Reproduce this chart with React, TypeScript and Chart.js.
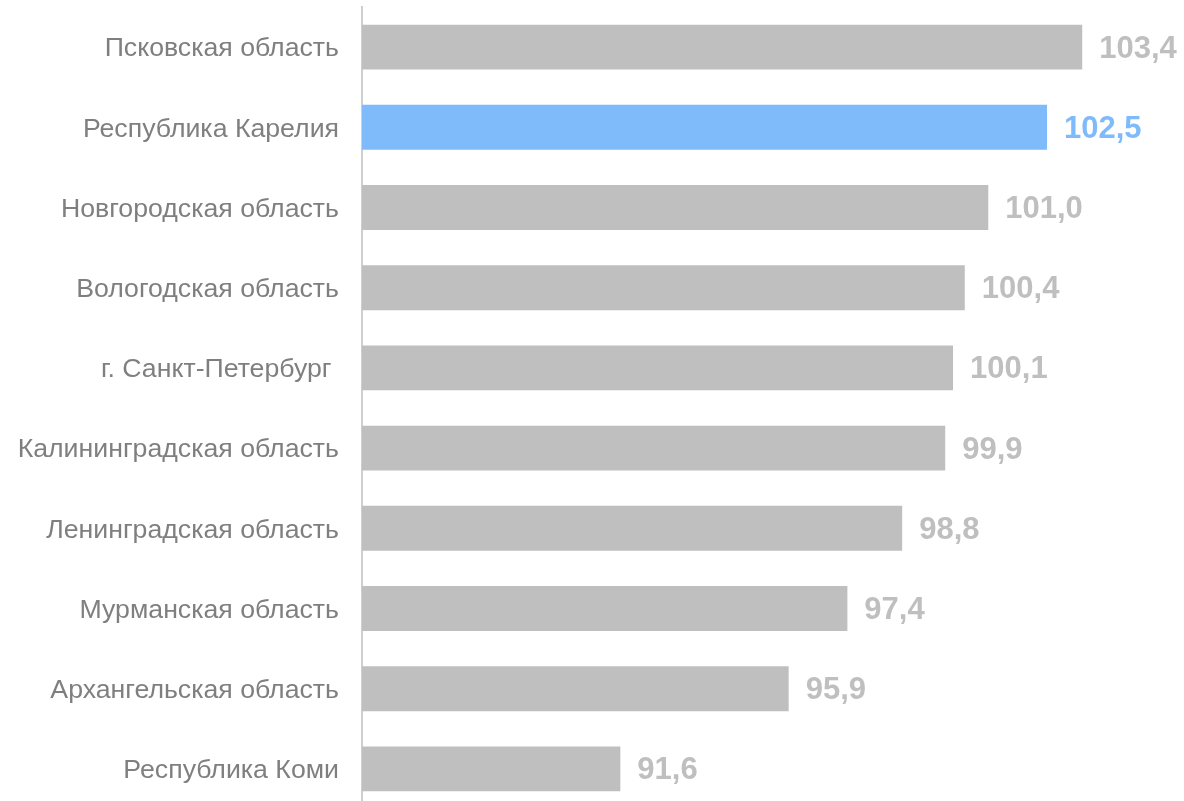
import React, { useEffect, useRef } from "react";
import { Chart, registerables } from "chart.js";

Chart.register(...registerables);

const categories = [
  "Псковская область",
  "Республика Карелия",
  "Новгородская область",
  "Вологодская область",
  "г. Санкт-Петербург ",
  "Калининградская область",
  "Ленинградская область",
  "Мурманская область",
  "Архангельская область",
  "Республика Коми",
];
const values = [103.4, 102.5, 101.0, 100.4, 100.1, 99.9, 98.8, 97.4, 95.9, 91.6];
const highlightIndex = 1;

const GRAY = "#bfbfbf";
const BLUE = "#7fbbfa";

const valueLabels = {
  id: "valueLabels",
  afterDatasetsDraw(chart: any) {
    const ctx = chart.ctx;
    const meta = chart.getDatasetMeta(0);
    ctx.save();
    ctx.font = "bold 31px 'Liberation Sans', Arial, sans-serif";
    ctx.textAlign = "left";
    ctx.textBaseline = "middle";
    meta.data.forEach((bar: any, i: number) => {
      ctx.fillStyle = i === highlightIndex ? BLUE : GRAY;
      ctx.fillText(values[i].toFixed(1).replace(".", ","), bar.x + 17, bar.y + 2);
    });
    ctx.restore();
  },
};

export default function App() {
  const ref = useRef<HTMLCanvasElement | null>(null);
  useEffect(() => {
    document.documentElement.style.overflow = "hidden";
    document.body.style.overflow = "hidden";
    const chart = new Chart(ref.current!, {
      type: "bar",
      data: {
        labels: categories,
        datasets: [
          {
            data: values,
            backgroundColor: values.map((_, i) => (i === highlightIndex ? BLUE : GRAY)),
            barPercentage: 0.56,
            categoryPercentage: 1,
          },
        ],
      },
      options: {
        indexAxis: "y",
        responsive: false,
        animation: false,
        layout: { padding: { top: 7, bottom: 3, left: 0, right: 0 } },
        plugins: { legend: { display: false }, tooltip: { enabled: false } },
        scales: {
          x: {
            min: 85,
            max: 106,
            display: false,
          },
          y: {
            grid: { display: false, drawTicks: false },
            border: { display: true, color: "#cfcfcf", width: 2 },
            ticks: {
              color: "#7f7f7f",
              font: { family: "'Liberation Sans', Arial, sans-serif", size: 26.7 },
              padding: 23,
              labelOffset: 2,
            },
            afterFit(scale: any) {
              scale.width = 362;
              scale.paddingTop = 0;
              scale.paddingBottom = 0;
            },
          },
        },
      },
      plugins: [valueLabels],
    });
    return () => chart.destroy();
  }, []);
  return (
    <div style={{ position: "fixed", left: 0, top: 0, width: 1184, height: 801, overflow: "hidden", background: "#fff" }}>
      <canvas ref={ref} width={1184} height={812} style={{ display: "block" }} />
    </div>
  );
}
